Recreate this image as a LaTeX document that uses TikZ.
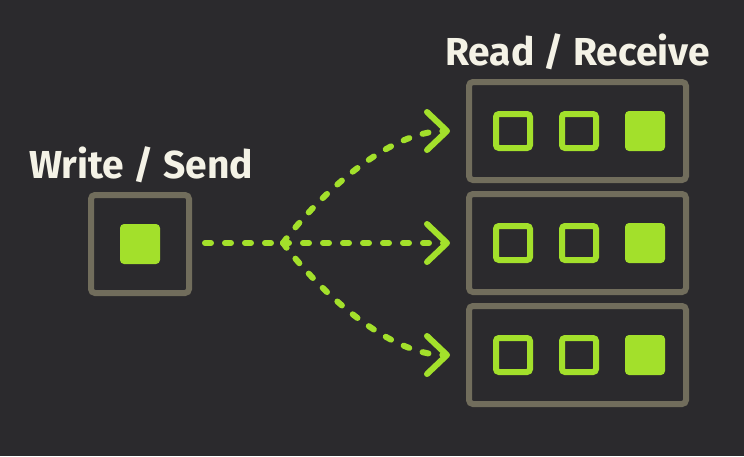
\documentclass[tikz,border=0pt]{standalone}
\usepackage{fontspec}
\setmainfont{Fira Sans}
\usetikzlibrary{arrows.meta}

\definecolor{bgdark}{HTML}{2B2A2D}
\definecolor{boxgray}{HTML}{716D5C}
\definecolor{lime}{HTML}{A3E02B}
\definecolor{titlewhite}{HTML}{F4F2E6}

\begin{document}
\begin{tikzpicture}[x=1pt,y=-1pt,
    framebox/.style={draw=boxgray, line width=6pt, rounded corners=4pt},
    slotempty/.style={draw=lime, line width=6pt, rounded corners=3pt, minimum size=34pt, inner sep=0pt},
    slotfull/.style={fill=lime, rounded corners=4pt, minimum size=40pt, inner sep=0pt},
    heading/.style={font=\bfseries\fontsize{39}{42}\selectfont, text=titlewhite, anchor=base, inner sep=0pt},
    flow/.style={draw=lime, line width=6pt, line cap=round, dash pattern=on 6pt off 14pt},
    flowtip/.style={-{Straight Barb[length=20pt, width=38pt, line cap=round, line join=round]}, shorten >=16pt}
  ]
    % Background
    \fill[bgdark] (0,0) rectangle (744,456);

    % Writer
    \node[heading] (sendlabel) at (141,178) {Write / Send};
    \node[framebox, minimum width=98pt, minimum height=98pt] (sendbox) at (140,244) {};
    \node[slotfull] (sendslot) at (140,244) {};

    % Readers
    \node[heading] (recvlabel) at (577.5,65) {Read / Receive};
    \foreach \name/\y in {readA/131, readB/243, readC/355} {
        \node[framebox, minimum width=217pt, minimum height=98pt] (\name) at (577.5,\y) {};
        \node[slotempty] (\name-1) at (513,\y) {};
        \node[slotempty] (\name-2) at (579,\y) {};
        \node[slotfull] (\name-3) at (645,\y) {};
    }

    % Fan-out
    \coordinate (fork) at (283,243);
    \draw[flow, shorten <=13pt] (sendbox.east |- fork) -- (fork);
    \draw[flow, flowtip] (fork) .. controls +(32,-43) and +(-80,0) .. (readA.west);
    \draw[flow, flowtip] (fork) -- (readB.west);
    \draw[flow, flowtip] (fork) .. controls +(32,43) and +(-80,0) .. (readC.west);
\end{tikzpicture}
\end{document}
